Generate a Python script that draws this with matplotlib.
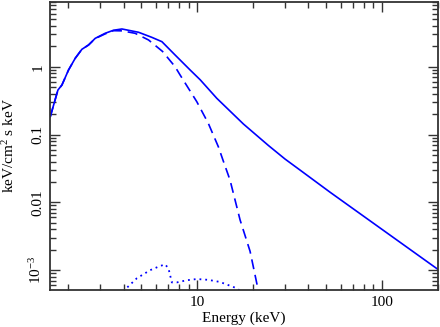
import matplotlib
matplotlib.use("Agg")
import matplotlib.pyplot as plt
from matplotlib.ticker import LogLocator, NullFormatter, FixedLocator, FixedFormatter

# Total model (solid)
total_e = [1.605, 1.766, 1.856, 2.015, 2.19, 2.38, 2.585, 2.81, 3.18, 3.53, 3.92, 4.82, 5.69,
           6.45, 7.60, 9.17, 10.4, 12.78, 17.8, 24.3, 29.9, 36.0, 52.4, 100.0, 197.6, 210.0]
total_f = [0.183, 0.453, 0.537, 0.894, 1.33, 1.806, 2.09, 2.62, 3.11, 3.45, 3.60, 3.22, 2.71,
           2.34, 1.49, 0.894, 0.64, 0.342, 0.143, 0.069, 0.0435, 0.030, 0.0141, 0.0040, 0.00106, 0.00095]

# Thermal component (dashed)
therm_e = [1.605, 1.766, 1.856, 2.015, 2.19, 2.38, 2.585, 2.81, 3.18, 3.53, 3.92, 4.62, 5.46,
           6.5, 7.60, 8.09, 9.96, 11.5, 13.03, 13.8, 15.07, 17.08, 19.34, 21.4, 22.5]
therm_f = [0.183, 0.453, 0.537, 0.894, 1.33, 1.806, 2.09, 2.60, 3.05, 3.40, 3.38, 3.11, 2.48,
           1.68, 1.0, 0.755, 0.305, 0.146, 0.066, 0.042, 0.0213, 0.0055, 0.0019, 0.00051, 0.00025]

# Reflection / line component (dotted)
line_e = [3.9, 4.08, 4.72, 5.57, 6.2, 6.71, 7.0, 7.30, 7.77, 8.8, 9.96, 11.5, 13.3, 16.4, 19.0]
line_f = [0.00040, 0.00052, 0.00076, 0.00100, 0.00113, 0.00122, 0.00106, 0.00066, 0.00066,
          0.00071, 0.00074, 0.00072, 0.00067, 0.00054, 0.00040]

xticks = [10, 100]
xtick_labels = ["10", "100"]
yticks = [1e-3, 1e-2, 1e-1, 1]
ytick_labels = [r"$10^{-3}$", "0.01", "0.1", "1"]

plt.rcParams["font.family"] = ["Liberation Serif", "DejaVu Serif"]
plt.rcParams["mathtext.fontset"] = "custom"
plt.rcParams["mathtext.rm"] = "Liberation Serif"
plt.rcParams["mathtext.it"] = "Liberation Serif:italic"

fig = plt.figure(figsize=(4.4, 3.27), dpi=100)
ax = fig.add_axes([50/440, 1 - 290/327, 388/440, 288/327])

blue = "#0000ff"
ax.plot(total_e, total_f, color=blue, lw=1.2, solid_joinstyle="miter")
ax.plot(therm_e, therm_f, color=blue, lw=1.2, linestyle=(0, (6, 3.5)))
ax.plot(line_e, line_f, color=blue, lw=1.3, linestyle=(0, (1, 2.2)))

ax.set_xscale("log")
ax.set_yscale("log")
ax.set_xlim(1.6, 201)
ax.set_ylim(5.1e-4, 9.0)

ax.xaxis.set_major_locator(FixedLocator(xticks))
ax.xaxis.set_major_formatter(FixedFormatter(xtick_labels))
ax.xaxis.set_minor_locator(LogLocator(base=10, subs=range(2, 10), numticks=20))
ax.xaxis.set_minor_formatter(NullFormatter())
ax.yaxis.set_major_locator(FixedLocator(yticks))
ax.yaxis.set_major_formatter(FixedFormatter(ytick_labels))
ax.yaxis.set_minor_locator(LogLocator(base=10, subs=range(2, 10), numticks=20))
ax.yaxis.set_minor_formatter(NullFormatter())

frame_col = "#333333"
for s in ax.spines.values():
    s.set_color(frame_col)
    s.set_linewidth(1.3)
ax.tick_params(which="both", direction="in", top=True, right=True, color=frame_col,
               labelsize=11, width=1.0)
ax.tick_params(which="major", length=7, pad=4)
ax.tick_params(which="minor", length=4)
for lab in ax.get_yticklabels():
    lab.set_rotation(90)
    lab.set_va("center")

ax.set_xlabel("Energy (keV)", fontsize=11, labelpad=2)
ax.set_ylabel("keV/cm$^{2}$ s keV", fontsize=11, labelpad=8)

fig.savefig("out.png", dpi=100)
